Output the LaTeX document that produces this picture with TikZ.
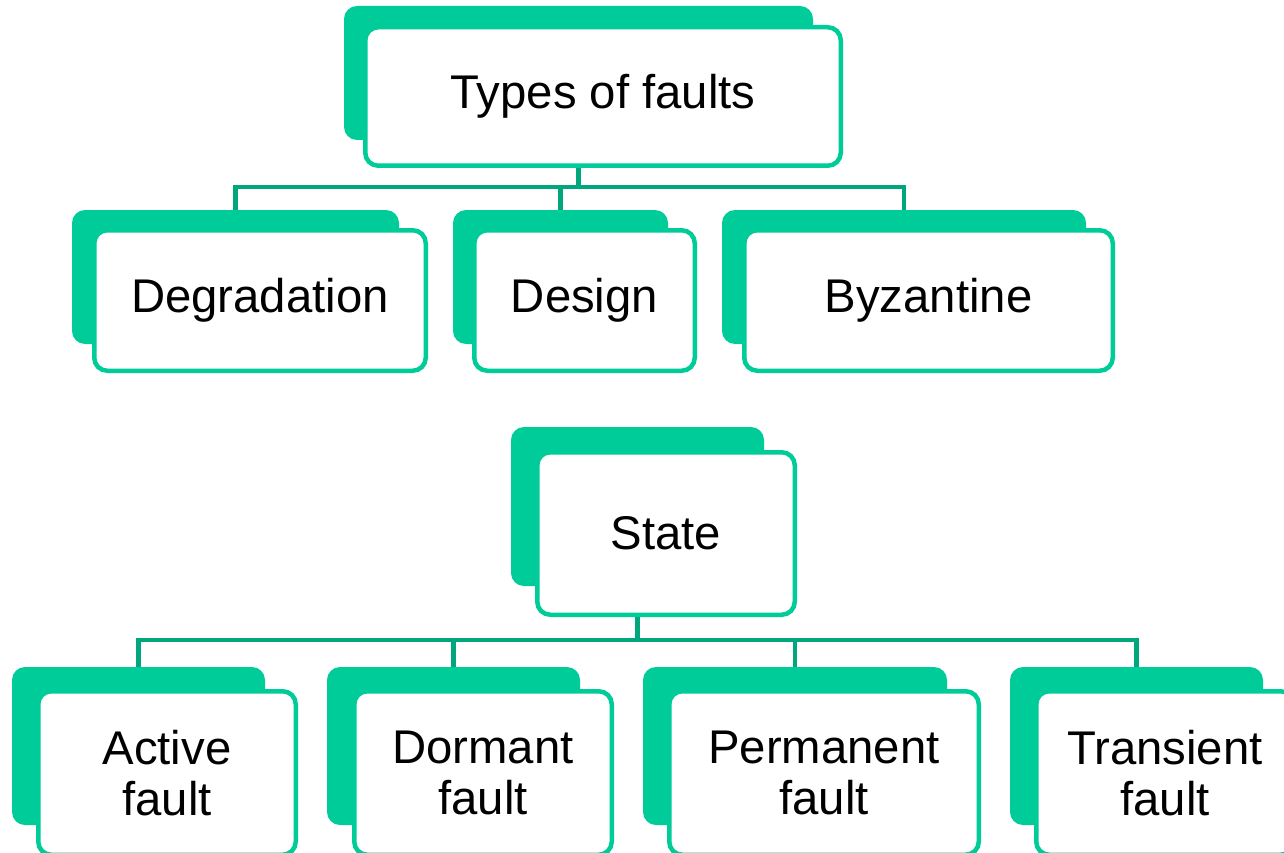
\documentclass[tikz,border=0pt]{standalone}
\usepackage{fontspec}
\setmainfont{Liberation Sans}
\definecolor{tealfill}{RGB}{0,204,153}
\definecolor{tealline}{RGB}{0,166,124}
\pgfdeclarelayer{bg}
\pgfsetlayers{bg,main}
\tikzset{
  backbox/.style={rectangle, rounded corners=13pt, fill=tealfill, inner sep=0pt, outer sep=0pt},
  frontbox/.style={rectangle, rounded corners=13pt, draw=tealfill, line width=4.5pt, fill=white,
    inner sep=0pt, outer sep=0pt, align=center, font=\fontsize{47.3}{51}\selectfont},
  conn/.style={draw=tealline, line width=4.5pt}
}
\begin{document}
\begin{tikzpicture}[x=1pt,y=-1pt]
\clip (0,0) rectangle (1284,853);

% root of the first tree
\node[backbox, minimum width=469pt, minimum height=134pt] (typesb) at (578.5,73) {};
\node[frontbox, minimum width=475.5pt, minimum height=138.5pt] (types) at (603,96.5) {\raisebox{-2pt}{Types of faults}};

% kinds of fault
\node[backbox, minimum width=327pt, minimum height=134pt] (degb) at (235.5,277) {};
\node[frontbox, minimum width=331.5pt, minimum height=140.5pt] (deg) at (260,300.5) {\raisebox{-2pt}{Degradation}};
\node[backbox, minimum width=215pt, minimum height=134pt] (desb) at (560.5,277) {};
\node[frontbox, minimum width=220.5pt, minimum height=140.5pt] (des) at (584.5,300.5) {\raisebox{-2pt}{Design}};
\node[backbox, minimum width=364pt, minimum height=134pt] (byzb) at (904,277) {};
\node[frontbox, minimum width=368.5pt, minimum height=140.5pt] (byz) at (928.5,300.5) {\raisebox{-2pt}{Byzantine}};

% root of the second tree
\node[backbox, minimum width=253pt, minimum height=159pt] (stateb) at (637.5,506.5) {};
\node[frontbox, minimum width=257.5pt, minimum height=162.5pt] (state) at (666,533.5) {State};

% fault states
\node[backbox, minimum width=253pt, minimum height=158pt] (actb) at (138.5,746) {};
\node[frontbox, minimum width=257.5pt, minimum height=163.5pt] (act) at (167,773) {Active\\fault};
\node[backbox, minimum width=253pt, minimum height=158pt] (dorb) at (453.5,746) {};
\node[frontbox, minimum width=257.5pt, minimum height=163.5pt] (dor) at (483,773) {Dormant\\fault};
\node[backbox, minimum width=304pt, minimum height=158pt] (perb) at (795,746) {};
\node[frontbox, minimum width=309.5pt, minimum height=163.5pt] (per) at (824,773) {Permanent\\fault};
\node[backbox, minimum width=253pt, minimum height=158pt] (trab) at (1136.5,746) {};
\node[frontbox, minimum width=257.5pt, minimum height=163.5pt] (tra) at (1165,773) {Transient\\fault};

% bus levels
\coordinate (bus1) at (0,187);
\coordinate (bus2) at (0,640);

\begin{pgfonlayer}{bg}
\fill[white] (0,0) rectangle (1284,853);
\foreach \c in {degb,desb,byzb}
  \draw[conn] (typesb.center |- types.south) -- (typesb.center |- bus1) -| (\c.north);
\foreach \c in {actb,dorb,perb,trab}
  \draw[conn] (stateb.center |- state.south) -- (stateb.center |- bus2) -| (\c.north);
\end{pgfonlayer}
\end{tikzpicture}
\end{document}
